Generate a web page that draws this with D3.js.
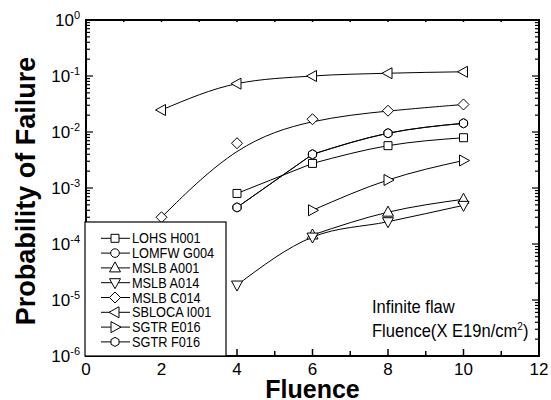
<!DOCTYPE html>
<html>
<head>
<meta charset="utf-8">
<script src="https://cdn.jsdelivr.net/npm/d3@7"></script>
<style>
  body { margin: 0; background: #fff; }
  text { font-family: "Liberation Sans", Arial, sans-serif; fill: #000; }
</style>
</head>
<body>
<div id="chart"></div>
<script>
// data (fluence in 1e19 n/cm2, probability of failure)
var seriesNames = ["LOHS H001", "LOMFW G004", "MSLB A001", "MSLB A014", "MSLB C014", "SBLOCA I001", "SGTR E016", "SGTR F016"];
var seriesShapes = ["square", "circle", "triUp", "triDown", "diamond", "triLeft", "triRight", "hexagon"];

var xLOHS = [4, 6, 8, 10];
var yLOHS = [8.0e-4, 2.75e-3, 5.7e-3, 7.9e-3];
var xLOMFW = [4, 6, 8, 10];
var yLOMFW = [4.5e-4, 4.0e-3, 9.5e-3, 1.43e-2];
var xA001 = [6, 8, 10];
var yA001 = [1.45e-4, 3.7e-4, 6.3e-4];
var xA014 = [4, 6, 8, 10];
var yA014 = [1.85e-5, 1.33e-4, 2.5e-4, 4.9e-4];
var xC014 = [2, 4, 6, 8, 10];
var yC014 = [3.0e-4, 6.3e-3, 1.69e-2, 2.4e-2, 3.1e-2];
var xI001 = [2, 4, 6, 8, 10];
var yI001 = [2.47e-2, 7.3e-2, 1.0e-1, 1.12e-1, 1.19e-1];
var xE016 = [6, 8, 10];
var yE016 = [4.0e-4, 1.39e-3, 3.1e-3];
var xF016 = [4, 6, 8, 10];
var yF016 = [4.5e-4, 4.0e-3, 9.5e-3, 1.43e-2];

var seriesX = [xLOHS, xLOMFW, xA001, xA014, xC014, xI001, xE016, xF016];
var seriesY = [yLOHS, yLOMFW, yA001, yA014, yC014, yI001, yE016, yF016];

var xTicks = [0, 2, 4, 6, 8, 10, 12];
var yTickExp = [0, -1, -2, -3, -4, -5, -6];

var props = {
  width: 551,
  height: 400,
  left: 86,
  right: 539,
  top: 20,
  bottom: 356
};

var svg = d3.select("#chart").append("svg").attr("width", props.width).attr("height", props.height);

var xScale = d3.scaleLinear().domain([0, 12]).range([props.left, props.right]);
var yScale = d3.scaleLog().domain([1e-6, 1]).range([props.bottom, props.top]);

// marker path generator, centred on 0,0
function markerPath(shape){
  var p = d3.path();
  if(shape == "square"){ p.rect(-4, -4, 8, 8); }
  else if(shape == "circle"){ p.moveTo(4.3, 0); p.arc(0, 0, 4.3, 0, 2 * Math.PI); }
  else if(shape == "triUp"){ p.moveTo(0, -6); p.lineTo(5.5, 4); p.lineTo(-5.5, 4); p.closePath(); }
  else if(shape == "triDown"){ p.moveTo(0, 6); p.lineTo(5.5, -4); p.lineTo(-5.5, -4); p.closePath(); }
  else if(shape == "triLeft"){ p.moveTo(-6, 0); p.lineTo(4, -5.5); p.lineTo(4, 5.5); p.closePath(); }
  else if(shape == "triRight"){ p.moveTo(6, 0); p.lineTo(-4, -5.5); p.lineTo(-4, 5.5); p.closePath(); }
  else if(shape == "diamond"){ p.moveTo(0, -5.5); p.lineTo(5.5, 0); p.lineTo(0, 5.5); p.lineTo(-5.5, 0); p.closePath(); }
  else if(shape == "hexagon"){
    for(var k = 0; k < 6; k++){
      var a = Math.PI / 6 + k * Math.PI / 3;
      if(k == 0) p.moveTo(4.6 * Math.cos(a), 4.6 * Math.sin(a)); else p.lineTo(4.6 * Math.cos(a), 4.6 * Math.sin(a));
    }
    p.closePath();
  }
  return p.toString();
}

// minor ticks
var g = svg.append("g");
var minorY = [];
for(var e = -6; e < 0; e++){
  for(var m = 1; m < 10; m++){ minorY.push(m * Math.pow(10, e)); }
}
minorY.push(1);

function isDecade(d){ return Math.abs(Math.log10(d) - Math.round(Math.log10(d))) < 1e-9; }

g.selectAll(".ytick-l").data(minorY).enter().append("line")
  .attr("x1", props.left).attr("x2", function(d){ return props.left + (isDecade(d) ? 7 : 4); })
  .attr("y1", function(d){ return yScale(d); }).attr("y2", function(d){ return yScale(d); })
  .style("stroke", "#000").style("stroke-width", 1.2);
g.selectAll(".ytick-r").data(minorY).enter().append("line")
  .attr("x1", props.right).attr("x2", function(d){ return props.right - (isDecade(d) ? 7 : 4); })
  .attr("y1", function(d){ return yScale(d); }).attr("y2", function(d){ return yScale(d); })
  .style("stroke", "#000").style("stroke-width", 1.2);

var xMinor = d3.range(0, 13, 1);
g.selectAll(".xtick-b").data(xMinor).enter().append("line")
  .attr("x1", function(d){ return xScale(d); }).attr("x2", function(d){ return xScale(d); })
  .attr("y1", props.bottom).attr("y2", function(d){ return props.bottom - (d % 2 == 0 ? 7 : 5); })
  .style("stroke", "#000").style("stroke-width", 1.5);
g.selectAll(".xtick-t").data(xMinor).enter().append("line")
  .attr("x1", function(d){ return xScale(d); }).attr("x2", function(d){ return xScale(d); })
  .attr("y1", props.top).attr("y2", props.top + 2)
  .style("stroke", "#000").style("stroke-width", 1.5);

// frame
svg.append("rect").attr("x", props.left).attr("y", props.top)
  .attr("width", props.right - props.left).attr("height", props.bottom - props.top)
  .style("fill", "none").style("stroke", "#000").style("stroke-width", 2);

// tick labels
svg.selectAll(".xlab").data(xTicks).enter().append("text")
  .attr("x", function(d){ return xScale(d); }).attr("y", 375)
  .attr("text-anchor", "middle").style("font-size", "17px")
  .text(function(d){ return d; });

var yl = svg.selectAll(".ylab").data(yTickExp).enter().append("text")
  .attr("x", 80).attr("y", function(d){ return yScale(Math.pow(10, d)) + 6; })
  .attr("text-anchor", "end").style("font-size", "17px");
yl.append("tspan").text("10");
yl.append("tspan").attr("dy", -7).style("font-size", "11px").text(function(d){ return d == 0 ? "0" : "-" + Math.abs(d); });

// axis titles
svg.append("text").attr("transform", "translate(35," + 191 + ") rotate(-90)")
  .attr("text-anchor", "middle").style("font-size", "27px").style("font-weight", "bold")
  .text("Probability of Failure");
svg.append("text").attr("x", (props.left + props.right) / 2).attr("y", 398)
  .attr("text-anchor", "middle").style("font-size", "25px").style("font-weight", "bold")
  .text("Fluence");

// curves: straight first segment where the reference draws one, smooth after
var lineGen = d3.line().x(function(d){ return xScale(d[0]); }).y(function(d){ return yScale(d[1]); });
var straightStart = ["square", "circle", "hexagon"];

seriesNames.forEach(function(name, i){
  var pts = seriesX[i].map(function(x, j){ return [x, seriesY[i][j]]; });
  var shape = seriesShapes[i];
  var d;
  if(straightStart.indexOf(shape) >= 0){
    d = lineGen.curve(d3.curveLinear)(pts.slice(0, 2)) + lineGen.curve(d3.curveMonotoneX)(pts.slice(1));
  } else {
    d = lineGen.curve(shape == "diamond" ? d3.curveBasis : d3.curveMonotoneX)(pts);
  }
  svg.append("path").attr("d", d)
    .style("fill", "none").style("stroke", "#000").style("stroke-width", 1);
});

seriesNames.forEach(function(name, i){
  var pts = seriesX[i].map(function(x, j){ return [x, seriesY[i][j]]; });
  svg.selectAll(".m" + i).data(pts).enter().append("path")
    .attr("d", markerPath(seriesShapes[i]))
    .attr("transform", function(d){ return "translate(" + xScale(d[0]) + "," + yScale(d[1]) + ")"; })
    .style("fill", "#fff").style("stroke", "#000").style("stroke-width", 1);
});

// legend
var legend = svg.append("g");
legend.append("rect").attr("x", 85).attr("y", 222).attr("width", 141).attr("height", props.bottom - 222)
  .style("fill", "#fff").style("stroke", "#000").style("stroke-width", 1.2);
seriesNames.forEach(function(name, i){
  var ly = 238.3 + i * 14.8;
  legend.append("line").attr("x1", 101).attr("x2", 130).attr("y1", ly).attr("y2", ly)
    .style("stroke", "#000").style("stroke-width", 1);
  legend.append("path").attr("d", markerPath(seriesShapes[i]))
    .attr("transform", "translate(115," + ly + ")")
    .style("fill", "#fff").style("stroke", "#000").style("stroke-width", 1);
  legend.append("text").attr("transform", "translate(132," + (ly + 5) + ") scale(0.88,1)")
    .style("font-size", "14.5px").text(name);
});

// annotation
var note = svg.append("g");
note.append("text").attr("transform", "translate(372,313) scale(0.92,1)")
  .style("font-size", "18px").text("Infinite flaw");
var t2 = note.append("text").attr("transform", "translate(372,337) scale(0.92,1)")
  .style("font-size", "18px");
t2.append("tspan").text("Fluence(X E19n/cm");
t2.append("tspan").attr("dy", -7).style("font-size", "11px").text("2");
t2.append("tspan").attr("dy", 7).text(")");
</script>
</body>
</html>
